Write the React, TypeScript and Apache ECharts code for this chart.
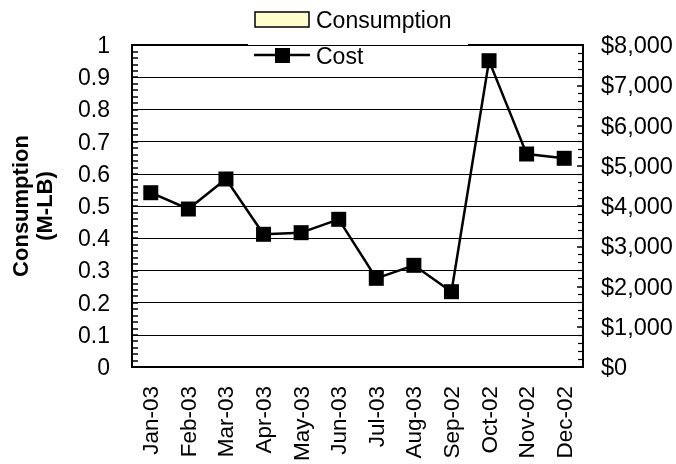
import React, { useEffect, useRef } from "react";
import * as echarts from "echarts";

const months = ["Jan-03", "Feb-03", "Mar-03", "Apr-03", "May-03", "Jun-03", "Jul-03", "Aug-03", "Sep-02", "Oct-02", "Nov-02", "Dec-02"];
const consumption = [0, 0, 0, 0, 0, 0, 0, 0, 0, 0, 0, 0];
const cost = [4330, 3925, 4671, 3297, 3337, 3669, 2203, 2526, 1871, 7610, 5292, 5185];
const leftTicks = [0, 0.1, 0.2, 0.3, 0.4, 0.5, 0.6, 0.7, 0.8, 0.9, 1];

const FONT = "'Liberation Sans', Arial, sans-serif";

export default function App() {
  const ref = useRef<HTMLDivElement>(null);
  useEffect(() => {
    if (!ref.current) return;
    const chart = echarts.init(ref.current, undefined, { renderer: "svg" });
    chart.setOption({
      animation: false,
      textStyle: { fontFamily: FONT, color: "#000" },
      grid: {
        left: 132, right: 93, top: 45, bottom: 97,
        outerBoundsMode: "none",
        containLabel: false,
        show: true, borderColor: "#000", borderWidth: 2, backgroundColor: "transparent",
      },
      legend: { show: false },
      xAxis: {
        type: "category",
        data: months,
        boundaryGap: true,
        axisLine: { lineStyle: { color: "#000", width: 2 } },
        axisTick: { inside: true, length: 7, lineStyle: { color: "#000", width: 1.2 } },
        axisLabel: { rotate: 90, margin: 19, fontSize: 22.5, color: "#000", fontFamily: FONT, interval: 0 },
      },
      yAxis: [
        {
          type: "value",
          min: 0,
          max: 1,
          interval: 0.1,
          name: "Consumption\n(M-LB)",
          nameLocation: "middle",
          nameRotate: 90,
          nameGap: 76,
          nameTextStyle: { fontSize: 22, fontWeight: "bold", lineHeight: 24, color: "#000", fontFamily: FONT },
          axisLine: { show: true, lineStyle: { color: "#000", width: 2 } },
          axisTick: { show: true, inside: true, length: 6, lineStyle: { color: "#000", width: 1.5 } },
          minorTick: { show: true, splitNumber: 5, length: 6, lineStyle: { color: "#000", width: 1.5 } },
          splitLine: { show: true, lineStyle: { color: "#000", width: 1 } },
          axisLabel: {
            margin: 22,
            fontSize: 23,
            color: "#000",
            fontFamily: FONT,
            formatter: (v: number) => {
              const t = leftTicks.find((x) => Math.abs(x - v) < 1e-9);
              return String(t !== undefined ? t : v);
            },
          },
        },
        {
          type: "value",
          min: 0,
          max: 8000,
          interval: 1000,
          position: "right",
          axisLine: { show: true, lineStyle: { color: "#000", width: 2 } },
          axisTick: { show: true, inside: true, length: 6, lineStyle: { color: "#000", width: 1.5 } },
          minorTick: { show: true, splitNumber: 5, length: 5, lineStyle: { color: "#000", width: 1.2 } },
          splitLine: { show: false },
          axisLabel: {
            margin: 18,
            fontSize: 23.5,
            color: "#000",
            fontFamily: FONT,
            formatter: (v: number) => "$" + v.toLocaleString("en-US"),
          },
        },
      ],
      series: [
        {
          name: "Consumption",
          type: "bar",
          data: consumption,
          yAxisIndex: 0,
          itemStyle: { color: "#FFFFCC", borderWidth: 0 },
        },
        {
          name: "Cost",
          type: "line",
          data: cost,
          yAxisIndex: 1,
          symbol: "rect",
          symbolSize: 15,
          lineStyle: { color: "#000", width: 2.5 },
          itemStyle: { color: "#000" },
          z: 5,
        },
      ],
      graphic: [
        {
          type: "group",
          z: 100,
          children: [
            { type: "rect", shape: { x: 248, y: 0, width: 220, height: 70 }, style: { fill: "#fff" } },
            { type: "rect", shape: { x: 255, y: 12, width: 54, height: 15 }, style: { fill: "#FFFFCC", stroke: "#000", lineWidth: 1.5 } },
            { type: "text", x: 316, y: 20, style: { text: "Consumption", fontSize: 23, fontFamily: FONT, fill: "#000", verticalAlign: "middle" } },
            { type: "line", shape: { x1: 254, y1: 55, x2: 310, y2: 55 }, style: { stroke: "#000", lineWidth: 2.5 } },
            { type: "rect", shape: { x: 275, y: 48, width: 15, height: 15 }, style: { fill: "#000" } },
            { type: "text", x: 316, y: 56, style: { text: "Cost", fontSize: 23, fontFamily: FONT, fill: "#000", verticalAlign: "middle" } },
          ],
        },
      ],
    });
    return () => chart.dispose();
  }, []);
  return <div ref={ref} style={{ position: "fixed", left: 0, top: 0, width: 676, height: 464 }} />;
}
